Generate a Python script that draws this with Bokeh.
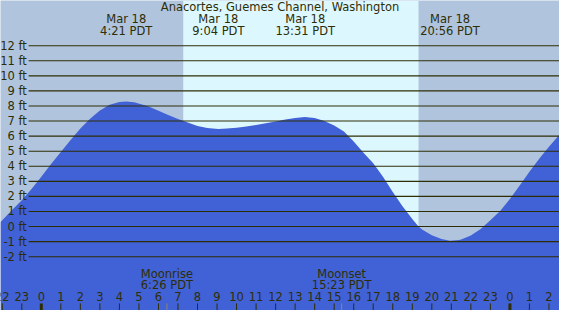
from bokeh.plotting import figure
from bokeh.models import Range1d
from bokeh.core.properties import value
from bokeh.embed import file_html
from bokeh.resources import INLINE

# ---- data ----
title_text = "Anacortes, Guemes Channel, Washington"
date_label = "Mar 18"

# water level (ft) vs hour of Mar 18 (PDT)
tide_hours = [-2.09, -2.0, -1.5, -1.0, -0.5, 0.0, 0.5, 1.0, 1.5, 2.0, 2.5, 3.0, 3.5, 4.0,
              4.35, 4.75, 5.25, 5.5, 6.0, 6.5, 7.0, 7.5, 8.0, 8.5, 9.07, 9.5, 10.0, 10.5,
              11.0, 11.5, 12.0, 12.5, 13.0, 13.5, 14.0, 14.5, 15.0, 15.5, 16.0, 16.5, 17.0,
              17.5, 18.0, 18.5, 19.0, 19.32, 19.5, 20.0, 20.5, 20.93, 21.4, 21.5, 22.0, 22.5,
              23.0, 23.5, 24.0, 24.5, 25.0, 25.5, 26.0, 26.54]
tide_levels = [0.28, 0.42, 1.1, 1.75, 2.5, 3.3, 4.15, 4.95, 5.75, 6.5, 7.15, 7.7, 8.08, 8.27,
               8.3, 8.25, 8.07, 7.97, 7.68, 7.4, 7.13, 6.9, 6.68, 6.54, 6.47, 6.5, 6.56, 6.64,
               6.74, 6.85, 6.97, 7.1, 7.21, 7.27, 7.2, 7.0, 6.7, 6.3, 5.65, 4.9, 4.2,
               3.3, 2.3, 1.35, 0.5, 0.0, -0.2, -0.57, -0.82, -0.95, -0.9, -0.86, -0.6, -0.17,
               0.42, 1.04, 1.83, 2.73, 3.63, 4.5, 5.3, 6.1]

extreme_hours = [4.35, 9.067, 13.517, 20.933]
extreme_labels = ["4:21 PDT", "9:04 PDT", "13:31 PDT", "20:56 PDT"]

moon_hours = [6.433, 15.383]
moon_events = ["Moonrise", "Moonset"]
moon_labels = ["6:26 PDT", "15:23 PDT"]

sunrise_hour = 7.27
sunset_hour = 19.32

ft_ticks = list(range(-2, 13))
ft_labels = [f"{v} ft" for v in ft_ticks]

hour_ticks = list(range(-2, 27))
hour_labels = [str(h % 24) for h in hour_ticks]

# ---- styling ----
X0, X1 = -2.09, 26.54
Y0, Y1 = -5.57, 15.0
NIGHT = "#B0C4DE"
DAY = "#DDF7FF"
WATER = "#4161D6"
INK = "#2E2E05"
FONT = value("DejaVu Sans")
FS = value("11.5px")

p = figure(width=559, height=310, x_range=Range1d(X0, X1), y_range=Range1d(Y0, Y1),
           output_backend="svg", toolbar_location=None, min_border=0,
           background_fill_color=NIGHT, border_fill_color=NIGHT)
p.xaxis.visible = False
p.yaxis.visible = False
p.xgrid.visible = False
p.ygrid.visible = False
p.outline_line_color = None

# daylight band
p.quad(left=[sunrise_hour], right=[sunset_hour], bottom=[Y0], top=[Y1],
       fill_color=DAY, line_color=None)

# water
p.varea(x=tide_hours, y1=[Y0] * len(tide_hours), y2=tide_levels, fill_color=WATER)

# horizontal level lines and labels
p.segment(x0=[-0.65] * len(ft_ticks), x1=[X1] * len(ft_ticks), y0=ft_ticks, y1=ft_ticks,
          line_color=INK, line_width=1.1)
p.text(x=[-0.74] * len(ft_ticks), y=ft_ticks, text=ft_labels, text_align="right",
       text_baseline="middle", text_color=INK, text_font=FONT, text_font_size=FS)

# title and extreme labels
p.text(x=[(X0 + X1) / 2], y=[14.54], text=[title_text], text_align="center",
       text_baseline="middle", text_color=INK, text_font=FONT, text_font_size=FS)
p.text(x=extreme_hours, y=[13.78] * len(extreme_hours), text=[date_label] * len(extreme_hours),
       text_align="center", text_baseline="middle", text_color=INK, text_font=FONT,
       text_font_size=FS)
p.text(x=extreme_hours, y=[12.99] * len(extreme_hours), text=extreme_labels,
       text_align="center", text_baseline="middle", text_color=INK, text_font=FONT,
       text_font_size=FS)

# moon labels
p.text(x=moon_hours, y=[-3.12] * len(moon_hours), text=moon_events, text_align="center",
       text_baseline="middle", text_color=INK, text_font=FONT, text_font_size=FS)
p.text(x=moon_hours, y=[-3.87] * len(moon_hours), text=moon_labels, text_align="center",
       text_baseline="middle", text_color=INK, text_font=FONT, text_font_size=FS)

# hour labels and ticks
p.text(x=hour_ticks, y=[-4.67] * len(hour_ticks), text=hour_labels, text_align="center",
       text_baseline="middle", text_color=INK, text_font=FONT, text_font_size=FS)
minor = [h for h in hour_ticks if h % 24 != 0]
major = [h for h in hour_ticks if h % 24 == 0]
p.segment(x0=minor, x1=minor, y0=[-5.1] * len(minor), y1=[Y0] * len(minor),
          line_color=INK, line_width=1)
p.segment(x0=major, x1=major, y0=[-5.1] * len(major), y1=[Y0] * len(major),
          line_color=INK, line_width=3)
p.segment(x0=moon_hours, x1=moon_hours, y0=[-5.1] * len(moon_hours), y1=[Y0] * len(moon_hours),
          line_color="#8a8a70", line_width=1)

open("out.html", "w").write(file_html(p, INLINE))
